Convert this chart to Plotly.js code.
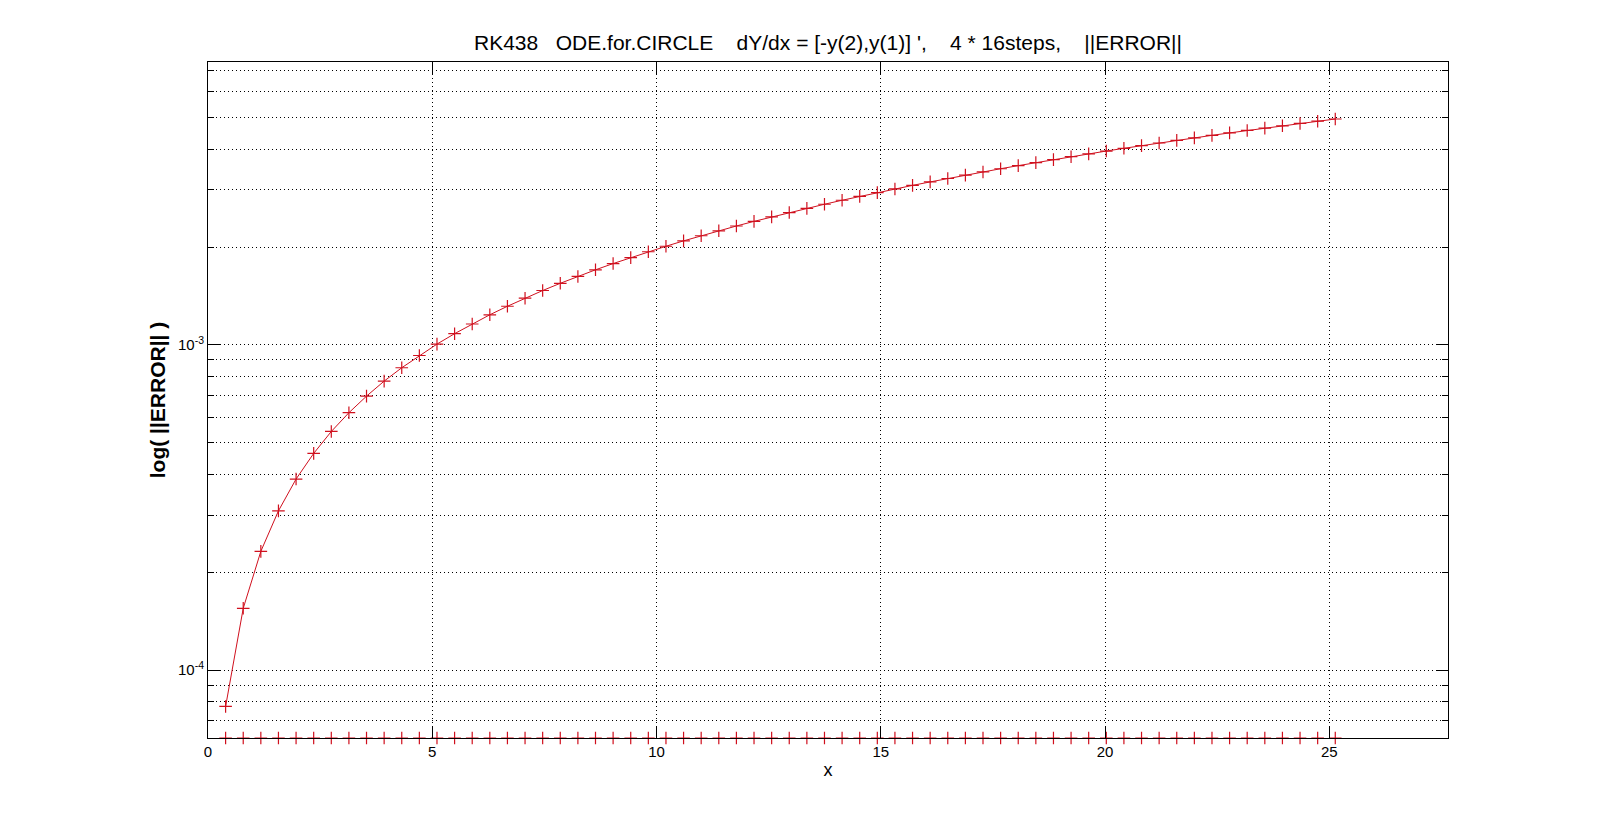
<!DOCTYPE html>
<html>
<head>
<meta charset="utf-8">
<script src="https://cdn.plot.ly/plotly-3.0.1.min.js"></script>
<style>html,body{margin:0;padding:0;background:#fff;}#chart{width:1601px;height:829px;}</style>
</head>
<body>
<div id="chart"></div>
<script>
// x positions: 4 * 16 steps over [0, 8*pi]
const xSteps = [0.3927,0.7854,1.1781,1.5708,1.9635,2.3562,2.7489,3.1416,3.5343,3.9270,4.3197,4.7124,5.1051,5.4978,5.8905,6.2832,
  6.6759,7.0686,7.4613,7.8540,8.2467,8.6394,9.0321,9.4248,9.8175,10.2102,10.6029,10.9956,11.3883,11.7810,12.1737,12.5664,
  12.9591,13.3518,13.7445,14.1372,14.5299,14.9226,15.3153,15.7080,16.1007,16.4934,16.8861,17.2788,17.6715,18.0642,18.4569,18.8496,
  19.2423,19.6350,20.0277,20.4204,20.8131,21.2058,21.5985,21.9911,22.3838,22.7765,23.1692,23.5619,23.9546,24.3473,24.7400,25.1327];
// ||ERROR||
const errorNorm = [7.74e-5,1.55e-4,2.32e-4,3.09e-4,3.87e-4,4.64e-4,5.42e-4,6.19e-4,6.96e-4,7.74e-4,8.51e-4,9.28e-4,1.006e-3,1.083e-3,1.160e-3,1.238e-3,
  1.315e-3,1.392e-3,1.470e-3,1.547e-3,1.624e-3,1.702e-3,1.779e-3,1.856e-3,1.934e-3,2.011e-3,2.089e-3,2.166e-3,2.243e-3,2.321e-3,2.398e-3,2.475e-3,
  2.553e-3,2.630e-3,2.707e-3,2.785e-3,2.862e-3,2.939e-3,3.017e-3,3.094e-3,3.171e-3,3.249e-3,3.326e-3,3.403e-3,3.481e-3,3.558e-3,3.636e-3,3.713e-3,
  3.790e-3,3.868e-3,3.945e-3,4.022e-3,4.100e-3,4.177e-3,4.254e-3,4.332e-3,4.409e-3,4.486e-3,4.564e-3,4.641e-3,4.718e-3,4.796e-3,4.873e-3,4.950e-3];
// second series sitting on the lower axis limit
const floorSeries = [6.19e-5,6.19e-5,6.19e-5,6.19e-5,6.19e-5,6.19e-5,6.19e-5,6.19e-5,6.19e-5,6.19e-5,6.19e-5,6.19e-5,6.19e-5,6.19e-5,6.19e-5,6.19e-5,
  6.19e-5,6.19e-5,6.19e-5,6.19e-5,6.19e-5,6.19e-5,6.19e-5,6.19e-5,6.19e-5,6.19e-5,6.19e-5,6.19e-5,6.19e-5,6.19e-5,6.19e-5,6.19e-5,
  6.19e-5,6.19e-5,6.19e-5,6.19e-5,6.19e-5,6.19e-5,6.19e-5,6.19e-5,6.19e-5,6.19e-5,6.19e-5,6.19e-5,6.19e-5,6.19e-5,6.19e-5,6.19e-5,
  6.19e-5,6.19e-5,6.19e-5,6.19e-5,6.19e-5,6.19e-5,6.19e-5,6.19e-5,6.19e-5,6.19e-5,6.19e-5,6.19e-5,6.19e-5,6.19e-5,6.19e-5,6.19e-5];

const xTickVals = [0,5,10,15,20,25];
const xTickText = ['0','5','10','15','20','25'];
const yMajorVals = [1e-4,1e-3];
const yMajorText = ['10<sup>-4</sup>','10<sup>-3</sup>'];
const yMinorVals = [7e-5,8e-5,9e-5,2e-4,3e-4,4e-4,5e-4,6e-4,7e-4,8e-4,9e-4,2e-3,3e-3,4e-3,5e-3,6e-3,7e-3];

const red = '#d0101e';
const font = 'Liberation Sans, Arial, sans-serif';

const traces = [
  {x: xSteps, y: errorNorm, type: 'scatter', mode: 'lines+markers',
   line: {color: red, width: 1},
   marker: {symbol: 'cross-thin', size: 9, line: {color: red, width: 1.2}},
   cliponaxis: false, showlegend: false},
  {x: xSteps, y: floorSeries, type: 'scatter', mode: 'markers',
   marker: {symbol: 'cross-thin', size: 9, line: {color: red, width: 1.2}},
   cliponaxis: false, showlegend: false}
];

const layout = {
  width: 1601, height: 829,
  paper_bgcolor: '#ffffff', plot_bgcolor: '#ffffff',
  margin: {l: 208, r: 153, t: 62, b: 91, pad: 0},
  font: {family: font, color: '#000', size: 15},
  title: {text: "RK438   ODE.for.CIRCLE    dY/dx = [-y(2),y(1)] ',    4 * 16steps,    ||ERROR||",
          font: {family: font, size: 21, color: '#000'},
          x: 0.5, xref: 'paper', xanchor: 'center', y: 1 - 43/829, yanchor: 'middle'},
  xaxis: {
    range: [0, 27.646], tickmode: 'array', tickvals: xTickVals, ticktext: xTickText,
    ticks: 'inside', ticklen: 12, tickwidth: 1, tickcolor: '#000',
    showline: true, linecolor: '#000', linewidth: 1, mirror: 'ticks',
    showgrid: true, gridcolor: '#000', gridwidth: 1, griddash: '1px,3px',
    zeroline: false, tickfont: {size: 15}, ticklabelstandoff: 0,
    title: {text: 'x', font: {size: 18}, standoff: 4}
  },
  yaxis: {
    type: 'log', range: [Math.log10(6.19e-5), Math.log10(7.41e-3)],
    tickmode: 'array', tickvals: yMajorVals, ticktext: yMajorText,
    ticks: 'inside', ticklen: 12, tickwidth: 1, tickcolor: '#000',
    showline: true, linecolor: '#000', linewidth: 1, mirror: 'ticks',
    showgrid: true, gridcolor: '#000', gridwidth: 1, griddash: '1px,3px',
    minor: {tickmode: 'array', tickvals: yMinorVals, ticks: 'inside', ticklen: 6, tickcolor: '#000',
            showgrid: true, gridcolor: '#000', gridwidth: 1, griddash: '1px,3px'},
    zeroline: false, tickfont: {size: 15},
    title: {text: '<b>log( ||ERROR|| )</b>', font: {size: 21}, standoff: 6}
  }
};

Plotly.newPlot('chart', traces, layout, {displayModeBar: false, staticPlot: true});
</script>
</body>
</html>
